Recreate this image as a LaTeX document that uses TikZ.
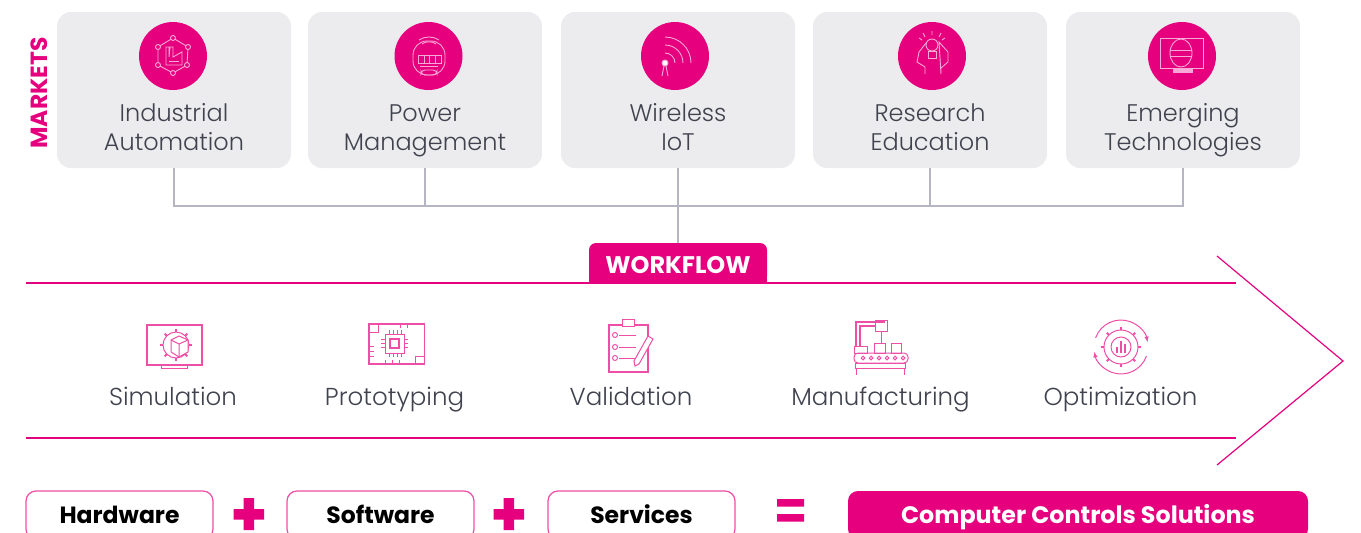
\documentclass[tikz,border=0pt]{standalone}
\usepackage{fontspec}
\setmainfont{Poppins}[UprightFont=* Light,BoldFont=* Bold]
\definecolor{brand}{HTML}{E6007E}
\definecolor{cardgrey}{HTML}{ECECEE}
\definecolor{ink}{HTML}{40424E}
\definecolor{busgrey}{HTML}{B5B5C3}
\definecolor{pale}{HTML}{F9A9D5}
\definecolor{soft}{HTML}{EE4FA6}
\begin{document}
\begin{tikzpicture}[
  x=1pt, y=-1pt,
  card/.style={rectangle, fill=cardgrey, rounded corners=14pt, minimum width=234pt, minimum height=156pt},
  disc/.style={circle, fill=brand, minimum size=68pt, inner sep=0pt},
  market/.style={align=center, anchor=base, text=ink, font=\fontsize{24}{29}\selectfont},
  phase/.style={anchor=base, text=ink, font=\fontsize{24.5}{29}\selectfont},
  part/.style={rectangle, draw=soft, line width=1.2pt, fill=white, rounded corners=10pt, minimum width=187pt, minimum height=48pt, text height=18pt, text depth=2pt, font=\fontsize{23.5}{28}\bfseries\selectfont, text=black},
  total/.style={rectangle, fill=brand, rounded corners=10pt, minimum width=460pt, minimum height=48pt, text height=18pt, text depth=2pt, font=\fontsize{23.8}{28}\bfseries\selectfont, text=white},
  bus/.style={draw=busgrey, line width=1.3pt},
  band/.style={draw=brand, line width=1.2pt},
  wicon/.style={draw=pale, line width=0.9pt},
  picon/.style={draw=soft, line width=1pt}
]
\useasboundingbox (0,0) rectangle (1361,533);
\clip (0,0) rectangle (1361,533);

% Markets
\node[card] (ind) at (174,90) {};
\node[card, right of=ind, node distance=251pt] (pow) {};
\node[card, right of=pow, node distance=253pt] (wir) {};
\node[card, right of=wir, node distance=252pt] (res) {};
\node[card, right of=res, node distance=253pt] (eme) {};
\node[rotate=90, text=brand, font=\fontsize{23.4}{26}\bfseries\selectfont] (marketstitle) at (39,93) {MARKETS};

\node[disc] (indicon) at (173,56) {};
\node[disc] (powicon) at (428.5,56) {};
\node[disc] (wiricon) at (675,56) {};
\node[disc] (resicon) at (932,56) {};
\node[disc] (emeicon) at (1182,56) {};

\node[market] (indtext) at (174,150.5) {Industrial\\Automation};
\node[market] (powtext) at (425,150.5) {Power\\Management};
\node[market] (wirtext) at (678,150.5) {Wireless\\IoT};
\node[market] (restext) at (930,150.5) {Research\\Education};
\node[market] (emetext) at (1183,150.5) {Emerging\\Technologies};

% Market icons
\begin{scope}[wicon]
  \draw (173,38) -- (188,47) -- (187,65) -- (173,73) -- (158,65) -- (158,47) -- cycle;
  \foreach \px/\py in {173/38, 188/47, 187/65, 173/73, 158/65, 158/47}
    \draw[fill=brand] (\px,\py) circle (2.5);
  \draw (166,65) -- (166,47) -- (169,47) -- (169,57) -- (170,47) -- (173,47) -- (173,57) -- (182,52) -- (182,65) -- cycle;
  \draw (169,61) -- (179,61);

  \draw[rounded corners=14pt] (413,41) rectangle (445,75);
  \draw (418,55) rectangle (441,63);
  \draw (424,55) -- (424,63) (429.5,55) -- (429.5,63) (435,55) -- (435,63);
  \draw (420,66) -- (438,66);
  \draw[rounded corners=4pt] (421,70) rectangle (437,75);
  \draw (419,40) .. controls (425,36) and (433,36) .. (439,40);
  \draw (422,44) .. controls (426,41) and (432,41) .. (436,44);

  \draw[fill=white] (665,63) circle (3);
  \draw (664,66) -- (662,76) (666,66) -- (668,76);
  \draw (665,53) arc (90:0:10pt);
  \draw (665,45) arc (90:0:18pt);
  \draw (665,37) arc (90:0:26pt);

  \draw (932,45) circle (6);
  \draw (928.5,51) rectangle (936,58);
  \draw (925,74) -- (925,67) -- (917,62) -- (919,52) -- (926,43);
  \draw (939,42) -- (948,52) -- (948,62) -- (941,68) -- (941,74) -- cycle;
  \draw (932,31) -- (932,35) (923,33) -- (925,37) (941,33) -- (939,37) (919,38) -- (922,40) (945,38) -- (942,40);

  \draw (1160,38) rectangle (1203,68);
  \draw (1181,53) ellipse (11 and 14);
  \draw (1170,50) -- (1192,50) (1170,56) -- (1192,56);
  \draw[fill=pale] (1173,68) rectangle (1192,72);
\end{scope}

% Arrows
\coordinate (busjoint) at (678,206);
\node[rectangle, fill=brand, minimum width=178pt, minimum height=40pt, rounded corners=7pt] (wftab) at (678,263) {};
\fill[brand] (589,270) rectangle (767,283);
\node[text=white, font=\fontsize{24}{25}\bfseries\selectfont] (wftext) at (678,265) {WORKFLOW};
\draw[bus] (ind.south) |- (busjoint);
\draw[bus] (pow.south) |- (busjoint);
\draw[bus] (res.south) |- (busjoint);
\draw[bus] (eme.south) |- (busjoint);
\draw[bus] (wir.south) -- (wftab.north);

% Workflow arrow
\coordinate (bandtop) at (26,283);
\coordinate (bandtopend) at (1236,283);
\coordinate (bandlow) at (26,438);
\coordinate (bandlowend) at (1236,438);
\coordinate (tipup) at (1217,256);
\coordinate (tip) at (1343,361);
\coordinate (tipdown) at (1217,465);
\draw[band] (bandtop) -- (bandtopend);
\draw[band] (bandlow) -- (bandlowend);
\draw[band] (tipup) -- (tip) -- (tipdown);

% Workflow steps
\node[phase] (simtext) at (173,405.5) {Simulation};
\node[phase] (protext) at (394.5,405.5) {Prototyping};
\node[phase] (valtext) at (631,405.5) {Validation};
\node[phase] (mantext) at (880.5,405.5) {Manufacturing};
\node[phase] (opttext) at (1120.5,405.5) {Optimization};

% Step icons
\begin{scope}[picon]
  \draw[line width=1.3pt] (147,325) rectangle (202,365);
  \draw (161,365) rectangle (187,368);
  \draw (176,345) circle (13);
  \foreach \a in {0,45,...,315}
    \draw[line width=2pt] (176,345) ++(\a:13) -- ++(\a:3);
  \draw[fill=white] (171,340) -- (179,336) -- (188,340) -- (188,352) -- (179,357) -- (171,352) -- cycle;
  \draw (171,340) -- (179,344) -- (188,340) (179,344) -- (179,357);

  \draw[line width=1.5pt] (369,324) rectangle (424.5,364);
  \draw (385,334) rectangle (404,353);
  \draw[line width=1.5pt] (390,339) rectangle (399,348);
  \foreach \t in {389,393,397,401}
    \draw (\t,330) -- (\t,334) (\t,353) -- (\t,357);
  \foreach \t in {339,343,347}
    \draw (381,\t) -- (385,\t) (404,\t) -- (408,\t);
  \draw (369,332) -- (378,332) -- (378,324) (424,356) -- (415,356) -- (415,364);
  \foreach \t in {346,351,356}
    \draw (369,\t) -- (374,\t);
  \foreach \t in {385,392,399}
    \draw (\t,364) -- (\t,360);
  \foreach \t in {400,407}
    \draw (\t,324) -- (\t,328);

  \draw[line width=1.3pt] (609,325) rectangle (648,372);
  \draw[fill=white] (622,319) rectangle (634,326);
  \foreach \t in {335,347,358} {
    \draw (615,\t) circle (2.5);
    \draw (619,\t) -- (636,\t);
  }
  \draw[fill=white] (648,336) -- (653,339) -- (639,364) -- (635,366) -- (634,361) -- cycle;

  \draw[line width=1.2pt] (856,347) -- (856,322) -- (885,322);
  \draw[line width=1.2pt] (860,347) -- (860,326) -- (875,326);
  \draw (875,320) rectangle (887,331);
  \draw (881,331) -- (881,343);
  \draw (854,346) rectangle (867,353);
  \draw (874.5,343) rectangle (885.5,353);
  \draw (891,343) rectangle (901.5,353);
  \draw[rounded corners=4pt] (854,353) rectangle (908,363);
  \foreach \t in {863,871,879,887,895,903}
    \draw (\t,358) circle (1.8);
  \draw (855,363) rectangle (905,368);
  \draw (856,368) -- (856,375) (904,368) -- (904,375);

  \draw[-latex] (1095.6,337.8) arc (160:10:27pt);
  \draw[-latex] (1146.4,356.2) arc (-20:-170:27pt);
  \draw (1121,347) circle (17);
  \foreach \a in {0,45,...,315}
    \draw[line width=2pt] (1121,347) ++(\a:17) -- ++(\a:3);
  \draw (1121,347) circle (10);
  \draw[line width=1.3pt] (1117,353) -- (1117,347) (1121,353) -- (1121,341) (1125,353) -- (1125,344);
\end{scope}

% Sum row
\node[part] (hardware) at (119.5,515) {Hardware};
\node[part, right of=hardware, node distance=261pt] (software) {Software};
\node[part, right of=software, node distance=261pt] (services) {Services};
\node[total] (solutions) at (1078,515) {Computer Controls Solutions};
\fill[brand] (243.5,498) rectangle (254,530) (233.5,509) rectangle (264,519.5);
\fill[brand] (503.5,498) rectangle (514,530) (493.5,509) rectangle (524,519.5);
\fill[brand] (777,499) rectangle (804,506.5) (777,514) rectangle (804,521.5);
\end{tikzpicture}
\end{document}
